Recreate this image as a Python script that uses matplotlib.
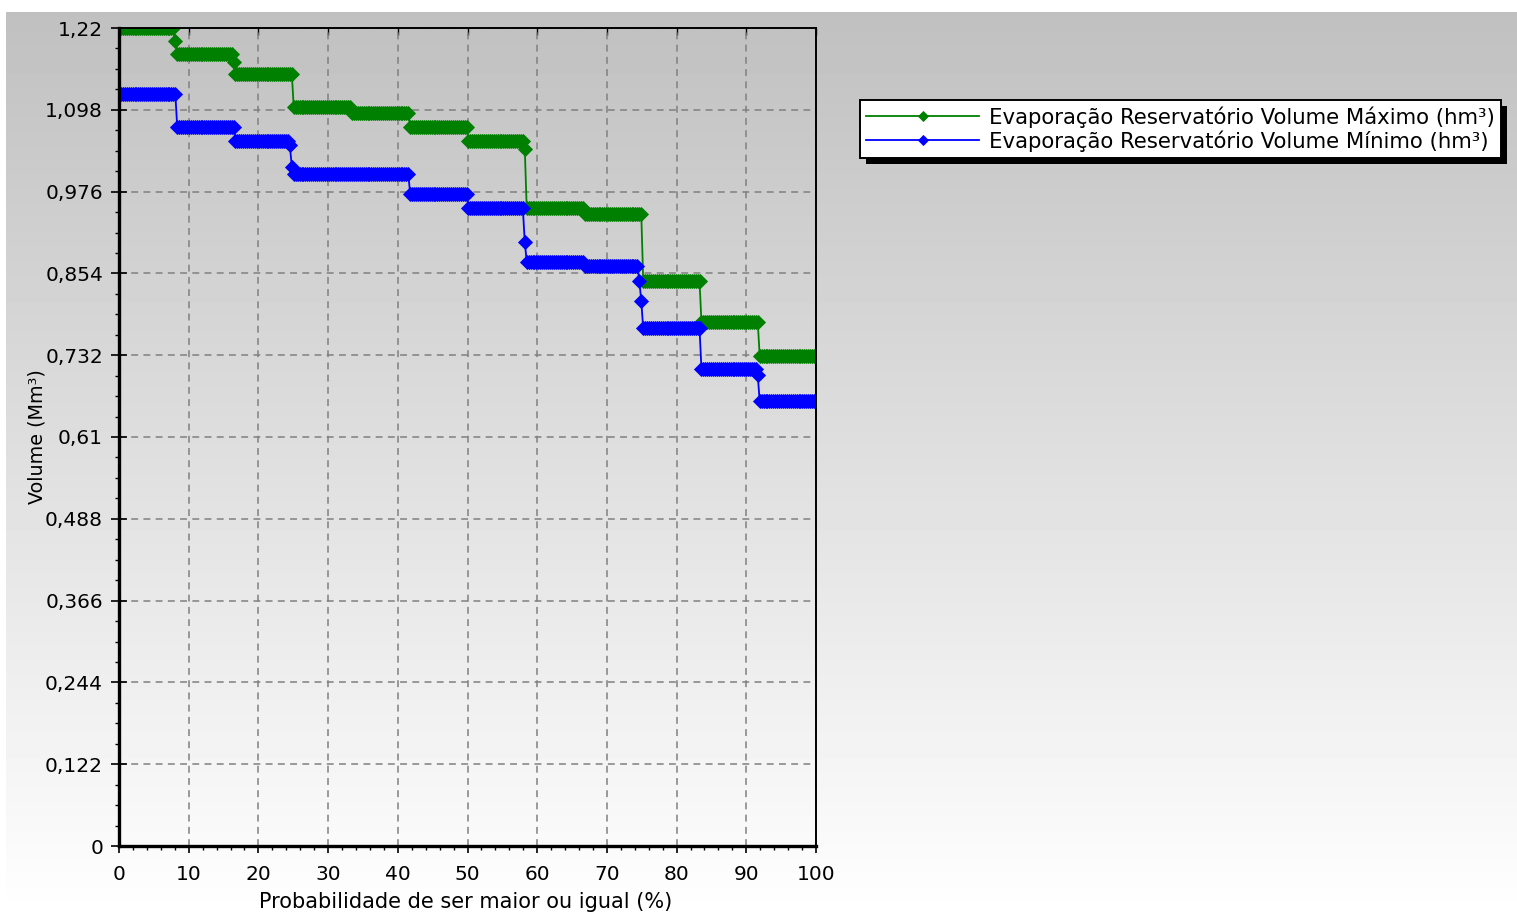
import numpy as np
import matplotlib
matplotlib.use("Agg")
import matplotlib.pyplot as plt
from matplotlib.patches import Rectangle

# sorted monthly values (12 months x 30 years), level and how many points sit on it
vol_max = [1.220, 1.200, 1.181, 1.170, 1.152, 1.102, 1.093, 1.072, 1.052, 1.040,
           0.951, 0.943, 0.843, 0.781, 0.731]
n_max = [29, 1, 29, 1, 30, 30, 30, 30, 29, 1, 30, 30, 30, 30, 30]

vol_min = [1.122, 1.072, 1.052, 1.045, 1.013, 1.002, 0.972, 0.951, 0.901, 0.871,
           0.865, 0.843, 0.813, 0.772, 0.712, 0.702, 0.663]
n_min = [30, 30, 28, 1, 1, 60, 30, 29, 1, 30, 28, 1, 1, 30, 29, 1, 30]

y_tick_labels = ["0", "0,122", "0,244", "0,366", "0,488", "0,61",
                 "0,732", "0,854", "0,976", "1,098", "1,22"]
x_tick_labels = ["0", "10", "20", "30", "40", "50", "60", "70", "80", "90", "100"]

label_max = "Evaporação Reservatório Volume Máximo (hm³)"
label_min = "Evaporação Reservatório Volume Mínimo (hm³)"

serie_max = np.repeat(vol_max, n_max)
serie_min = np.repeat(vol_min, n_min)
prob = np.linspace(0, 100, len(serie_max))

plt.rcParams["font.family"] = ["DejaVu Sans"]
fs = 14.5

W, H = 1517, 918
fig = plt.figure(figsize=(W / 100, H / 100), dpi=100)
fig.patch.set_facecolor("white")

# gradient background panel
bg = fig.add_axes([6 / W, 0, 1 - 6 / W, 1 - 12 / H], zorder=-5)
grad = np.linspace(192, 255, 256) / 255
img = np.repeat(grad[:, None], 4, axis=1)
bg.imshow(img, cmap="gray", vmin=0, vmax=1, aspect="auto",
          extent=[0, 1, 0, 1], origin="upper", interpolation="bilinear")
bg.axis("off")

ax = fig.add_axes([119 / W, 1 - 846 / H, (816 - 119) / W, (846 - 28) / H])
ax.set_facecolor("none")

l1, = ax.plot(prob, serie_max, color="#008000", lw=1.3, marker="D", ms=7,
              mec="#008000", mew=0.6)
l2, = ax.plot(prob, serie_min, color="#0000FF", lw=1.3, marker="D", ms=7,
              mec="#0000FF", mew=0.6)

ax.set_xlim(0, 100)
ax.set_ylim(0, 1.22)

ax.set_xticks(np.arange(0, 101, 10))
ax.set_xticklabels(x_tick_labels)
ax.set_xticks(np.arange(0, 101, 2), minor=True)
ax.set_yticks(np.linspace(0, 1.22, 11))
ax.set_yticklabels(y_tick_labels)
ax.set_yticks(np.linspace(0, 1.22, 41), minor=True)

ax.tick_params(axis="both", which="major", labelsize=fs, colors="black", width=1.2)
ax.tick_params(axis="y", which="major", direction="inout", length=11, pad=6)
ax.tick_params(axis="y", which="minor", direction="out", length=3, width=1)
ax.tick_params(axis="x", which="major", direction="out", length=5, pad=9)
ax.tick_params(axis="x", which="minor", direction="out", length=3, width=1)

top = ax.secondary_xaxis("top")
top.set_xticks(np.arange(0, 101, 10))
top.tick_params(direction="in", length=5, labeltop=False, width=1)
top.spines["top"].set_visible(False)

ax.grid(True, which="major", color="#808080", lw=1.1, linestyle=(0, (4.5, 3.5)))

ax.spines["left"].set_linewidth(2.4)
ax.spines["bottom"].set_linewidth(2.4)
ax.spines["top"].set_linewidth(1.4)
ax.spines["right"].set_linewidth(1.4)
for s in ax.spines.values():
    s.set_color("black")

fig.text(37 / W, 1 - 437 / H, "Volume (Mm³)", rotation=90, ha="center",
         va="center", fontsize=13.8)
fig.text(466 / W, 1 - 902 / H, "Probabilidade de ser maior ou igual (%)",
         ha="center", va="center", fontsize=15)

leg = fig.legend([l1, l2], [label_max, label_min], loc="upper left",
                 bbox_to_anchor=(860 / W, 1 - 100 / H), fontsize=15.3,
                 frameon=True, fancybox=False, borderaxespad=0, borderpad=0.3,
                 handlelength=5.3, handletextpad=0.45, labelspacing=0.1,
                 framealpha=1, markerscale=0.8)
leg.get_frame().set_edgecolor("black")
leg.get_frame().set_linewidth(1.4)
leg.set_zorder(10)

# hard black drop shadow under the legend box
fig.canvas.draw()
bb = leg.get_window_extent()
fig.patches.append(Rectangle((bb.x0 + 6, bb.y0 - 6), bb.width, bb.height,
                             transform=None, facecolor="black",
                             edgecolor="none", zorder=9))

fig.savefig("out.png", dpi=100)
